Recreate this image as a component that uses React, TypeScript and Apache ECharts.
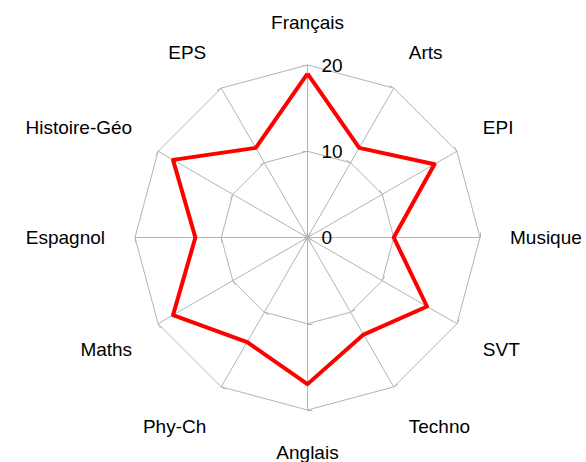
import React, { useEffect, useRef } from "react";
import * as echarts from "echarts";

// Subjects clockwise from the top
const subjects = ["Français", "Arts", "EPI", "Musique", "SVT", "Techno", "Anglais", "Phy-Ch", "Maths", "Espagnol", "Histoire-Géo", "EPS"];
const grades = [19, 12, 17, 10, 16, 13, 17, 14, 18, 13, 18, 12];
const maxGrade = 20;
// extra label offset per subject (clockwise order), pushes the name further out vertically
const nameShiftUp = [3, 20, 18, 0, 0, 0, 0, 0, 0, 0, 18, 20];
const nameShiftDown = [0, 0, 0, 0, 22, 28, 3, 28, 22, 0, 0, 0];

const FONT = "Liberation Sans, Arial, sans-serif";

export default function App() {
  const ref = useRef<HTMLDivElement>(null);
  useEffect(() => {
    if (!ref.current) return;
    const chart = echarts.init(ref.current, undefined, { renderer: "svg" });
    // ECharts lays indicators out counter-clockwise; reverse all but the first to go clockwise
    const order = [0, ...subjects.map((_, i) => i).slice(1).reverse()];
    const indicator = order.map((i, k) => ({
      name: subjects[i],
      min: 0,
      max: maxGrade,
      ...(k === 0
        ? {
            axisLabel: {
              show: true,
              color: "#000",
              fontSize: 19,
              fontFamily: FONT,
              margin: -14,
              align: "left",
              verticalAlign: "middle",
              padding: [4, 0, 0, 0],
            },
          }
        : {}),
    }));
    const values = order.map((i) => grades[i]);
    const rich: Record<string, any> = {
      n: { fontSize: 19, fontFamily: FONT, color: "#000" },
    };
    [...nameShiftUp, ...nameShiftDown].forEach((h) => {
      if (h > 0) rich["g" + h] = { fontSize: 1, lineHeight: h };
    });
    chart.setOption({
      animation: false,
      backgroundColor: "#fff",
      radar: {
        center: [307.5, 237.5],
        radius: 172.5,
        startAngle: 90,
        splitNumber: 2,
        shape: "polygon",
        indicator,
        nameGap: 30,
        axisName: {
          color: "#000",
          fontSize: 19,
          fontFamily: FONT,
          rich,
          formatter: (name: string) => {
            const i = subjects.indexOf(name);
            const up = nameShiftUp[i];
            const down = nameShiftDown[i];
            if (up > 0) return `{n|${name}}\n{g${up}|\u00a0}`;
            if (down > 0) return `{g${down}|\u00a0}\n{n|${name}}`;
            return `{n|${name}}`;
          },
        },
        axisLine: { lineStyle: { color: "#b4b4b4", width: 1 } },
        splitLine: { lineStyle: { color: "#b4b4b4", width: 1 } },
        splitArea: { show: false },
        axisTick: { show: true, length: 5, lineStyle: { color: "#b4b4b4" } },
        axisLabel: { show: false },
      },
      series: [
        {
          type: "radar",
          symbol: "none",
          lineStyle: { color: "#ff0000", width: 4 },
          itemStyle: { color: "#ff0000" },
          data: [{ value: values, name: "Notes" }],
        },
      ],
    });
    return () => chart.dispose();
  }, []);
  return <div ref={ref} style={{ position: "fixed", left: 0, top: 0, width: 586, height: 462 }} />;
}
